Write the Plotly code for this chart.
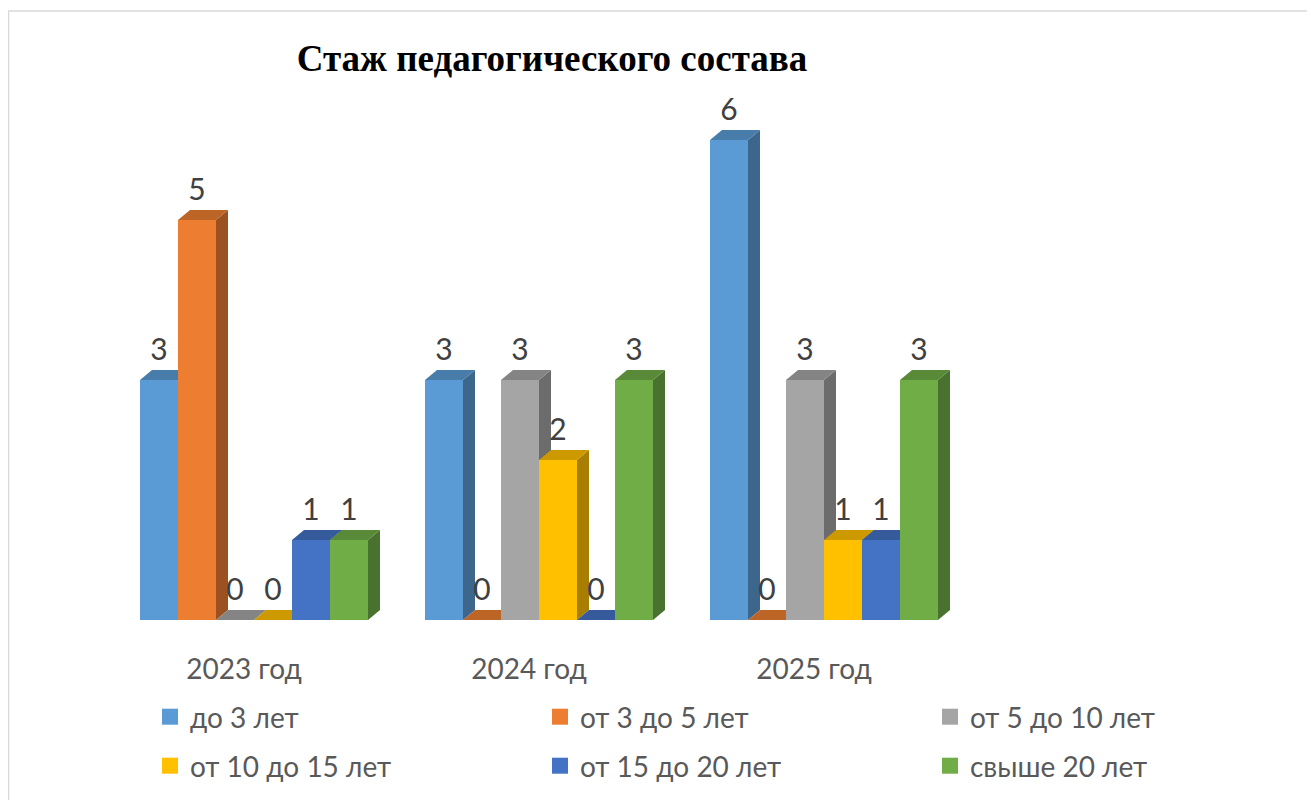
import plotly.graph_objects as go

# ---- data ----
categories = ["2023 год", "2024 год", "2025 год"]
series_names = ["до 3 лет", "от 3 до 5 лет", "от 5 до 10 лет",
                "от 10 до 15 лет", "от 15 до 20 лет", "свыше 20 лет"]
do_3 = [3, 3, 6]
ot_3_do_5 = [5, 0, 0]
ot_5_do_10 = [0, 3, 3]
ot_10_do_15 = [0, 2, 1]
ot_15_do_20 = [1, 0, 1]
svyshe_20 = [1, 3, 3]
series_values = [do_3, ot_3_do_5, ot_5_do_10, ot_10_do_15, ot_15_do_20, svyshe_20]
colors = ["#5B9BD5", "#ED7D31", "#A5A5A5", "#FFC000", "#4472C4", "#70AD47"]
title_text = "Стаж педагогического состава"

# ---- layout geometry (figure pixels) ----
W, H = 1315, 800
x_px0, x_px1 = 103.5, 958.5      # plot area horizontal extent
y_px_base, y_px_top = 612, 52    # y=0 and y=7
x_range = [-0.5, 2.5]
y_range = [0, 7]
px_per_x = (x_px1 - x_px0) / (x_range[1] - x_range[0])
px_per_y = (y_px_base - y_px_top) / (y_range[1] - y_range[0])
depth_dx = 12 / px_per_x
depth_dy = 10 / px_per_y
label_dy = 28 / px_per_y

n = len(series_names)
group_w = 0.8
bw = group_w / n


def shade(hexcol, f):
    h = hexcol.lstrip("#")
    r, g, b = (int(h[i:i + 2], 16) for i in (0, 2, 4))
    return "rgb(%d,%d,%d)" % (r * f, g * f, b * f)


fig = go.Figure()
shapes = []

for j, (name, vals, col) in enumerate(zip(series_names, series_values, colors)):
    centers = [i - group_w / 2 + (j + 0.5) * bw for i in range(len(categories))]
    fig.add_trace(go.Bar(
        x=centers, y=vals, width=bw, name=name, marker=dict(color=col, line=dict(width=0)),
        showlegend=False, hoverinfo="skip",
    ))
    # legend entry (square marker)
    fig.add_trace(go.Scatter(
        x=[None], y=[None], mode="markers", name=name,
        marker=dict(symbol="square", size=16, color=col, line=dict(width=0)),
        legend="legend" if j < 3 else "legend2", hoverinfo="skip",
    ))
    for c, v in zip(centers, vals):
        x0, x1 = c - bw / 2, c + bw / 2
        if v > 0:
            shapes.append(dict(
                type="path", xref="x", yref="y", layer="below",
                path="M %f,%f L %f,%f L %f,%f L %f,%f Z" % (
                    x1, 0, x1 + depth_dx, depth_dy, x1 + depth_dx, v + depth_dy, x1, v),
                fillcolor=shade(col, 0.66), line=dict(width=0)))
        shapes.append(dict(
            type="path", xref="x", yref="y", layer="below",
            path="M %f,%f L %f,%f L %f,%f L %f,%f Z" % (
                x0, v, x1, v, x1 + depth_dx, v + depth_dy, x0 + depth_dx, v + depth_dy),
            fillcolor=shade(col, 0.8), line=dict(width=0)))
    fig.add_trace(go.Scatter(
        x=centers, y=[v + label_dy for v in vals], mode="text",
        text=[str(v) for v in vals], textposition="middle center",
        textfont=dict(family="Lato", size=30, color="#404040"),
        showlegend=False, hoverinfo="skip",
    ))

# chart frame
shapes.append(dict(type="rect", xref="paper", yref="paper", layer="below",
                   x0=0.5 / W, x1=1.01, y0=-0.01, y1=(H - 3) / H,
                   line=dict(color="#D9D9D9", width=1.5), fillcolor="rgba(0,0,0,0)"))

legend_common = dict(
    orientation="h", xanchor="left", yanchor="middle",
    font=dict(family="Lato", size=28, color="#595959"),
    entrywidth=345, entrywidthmode="pixels", bgcolor="rgba(0,0,0,0)",
    traceorder="normal",
)

fig.update_layout(
    width=W, height=H,
    margin=dict(l=0, r=0, t=0, b=0),
    paper_bgcolor="white", plot_bgcolor="rgba(0,0,0,0)",
    barmode="overlay",
    title=dict(text="<b>" + title_text + "</b>", x=544 / W, xanchor="center",
               y=(H - 50) / H, yanchor="middle",
               font=dict(family="Liberation Serif", size=37, color="black")),
    xaxis=dict(domain=[x_px0 / W, x_px1 / W], range=x_range,
               tickvals=list(range(len(categories))), ticktext=categories,
               showgrid=False, zeroline=False, showline=False, ticks="",
               tickfont=dict(family="Lato", size=28, color="#595959"),
               ticklabelshift=-10, ticklabelstandoff=30),
    yaxis=dict(domain=[(H - y_px_base) / H, (H - y_px_top) / H], range=y_range,
               showgrid=False, zeroline=False, showline=False, showticklabels=False, ticks=""),
    legend=dict(x=142 / W, y=(H - 709) / H, **legend_common),
    legend2=dict(x=142 / W, y=(H - 758) / H, **legend_common),
    shapes=shapes,
    hovermode=False,
)

fig.write_html("out.html")
